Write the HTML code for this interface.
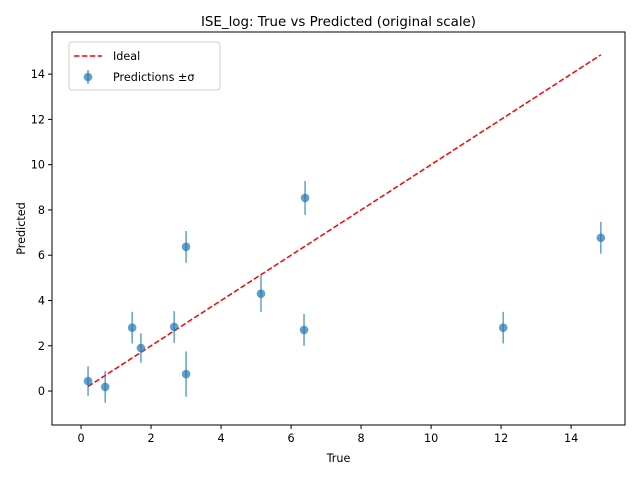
<!DOCTYPE html>
<html><head><meta charset="utf-8"><style>body{margin:0;background:#fff}svg{display:block;font-family:"DejaVu Sans","Liberation Sans",sans-serif}</style></head>
<body>
<svg id="chart" width="640" height="480"></svg>
<script>
const trueVals = [0.2, 0.69, 1.46, 1.71, 2.66, 3.0, 3.0, 5.14, 6.4, 6.37, 12.06, 14.85];
const predVals = [0.44, 0.18, 2.8, 1.9, 2.83, 6.37, 0.75, 4.3, 8.53, 2.7, 2.8, 6.77];
const sigmaVals = [0.65, 0.7, 0.7, 0.65, 0.7, 0.7, 1.0, 0.8, 0.75, 0.7, 0.7, 0.7];
const xTicks = [0, 2, 4, 6, 8, 10, 12, 14];
const yTicks = [0, 2, 4, 6, 8, 10, 12, 14];
const L=52,R=625,T=32,B=425, xMin=-0.83,xMax=15.54,yMin=-1.5,yMax=15.86;
const sx=v=>L+(v-xMin)/(xMax-xMin)*(R-L);
const sy=v=>B-(v-yMin)/(yMax-yMin)*(B-T);
const svg=document.getElementById('chart');const NS='http://www.w3.org/2000/svg';
function mk(t,a,p){const e=document.createElementNS(NS,t);for(const k in a)e.setAttribute(k,a[k]);(p||svg).appendChild(e);return e;}
const title=mk('text',{x:(L+R)/2,y:26,'text-anchor':'middle','font-size':'13.4'});title.textContent='ISE_log: True vs Predicted (original scale)';


xTicks.forEach(v=>{const g=mk('g',{});


mk('line',{x1:sx(v),x2:sx(v),y1:B,y2:B+4,stroke:'#000'},g);
const t=mk('text',{x:sx(v),y:B+17,'text-anchor':'middle','font-size':'11.2'},g);t.textContent=v;});
yTicks.forEach(v=>{const g=mk('g',{});


mk('line',{x1:L-4,x2:L,y1:sy(v),y2:sy(v),stroke:'#000'},g);
const t=mk('text',{x:L-7,y:sy(v)+4,'text-anchor':'end','font-size':'11.2'},g);t.textContent=v;});
const xl=mk('text',{x:(L+R)/2,y:462,'text-anchor':'middle','font-size':'11.2'});xl.textContent='True';


const yl=mk('text',{x:0,y:0,transform:`translate(25,${(T+B)/2}) rotate(-90)`,'text-anchor':'middle','font-size':'11.2'});yl.textContent='Predicted';


const mn=Math.min(...trueVals),mx=Math.max(...trueVals);
const ideal=mk('line',{x1:sx(mn),y1:sy(mn),x2:sx(mx),y2:sy(mx),stroke:'red','stroke-width':1.5,'stroke-dasharray':'5.5,2.4'});


trueVals.forEach((x,i)=>{const g=mk('g',{});


mk('line',{x1:sx(x),x2:sx(x),y1:sy(predVals[i]-sigmaVals[i]),y2:sy(predVals[i]+sigmaVals[i]),stroke:'#1f77b4','stroke-opacity':0.7,'stroke-width':1.5},g);
mk('circle',{cx:sx(x),cy:sy(predVals[i]),r:4.3,fill:'#1f77b4','fill-opacity':0.7},g);});
const frame=mk('rect',{x:L,y:T,width:R-L,height:B-T,fill:'none',stroke:'#000','stroke-width':1});


const lg=mk('g',{});


mk('rect',{x:69,y:42,width:151,height:48,rx:3,fill:'#fff',stroke:'#ccc'},lg);
mk('line',{x1:74,x2:102,y1:56,y2:56,stroke:'red','stroke-width':1.5,'stroke-dasharray':'5.5,2.4'},lg);
const t1=mk('text',{x:113,y:60,'font-size':'11.2'},lg);t1.textContent='Ideal';
mk('line',{x1:88,x2:88,y1:70,y2:84,stroke:'#1f77b4','stroke-opacity':0.7,'stroke-width':1.5},lg);
mk('circle',{cx:88,cy:77,r:4.3,fill:'#1f77b4','fill-opacity':0.7},lg);
const t2=mk('text',{x:113,y:81,'font-size':'11.2'},lg);t2.textContent='Predictions ±σ';
</script>
</body></html>
